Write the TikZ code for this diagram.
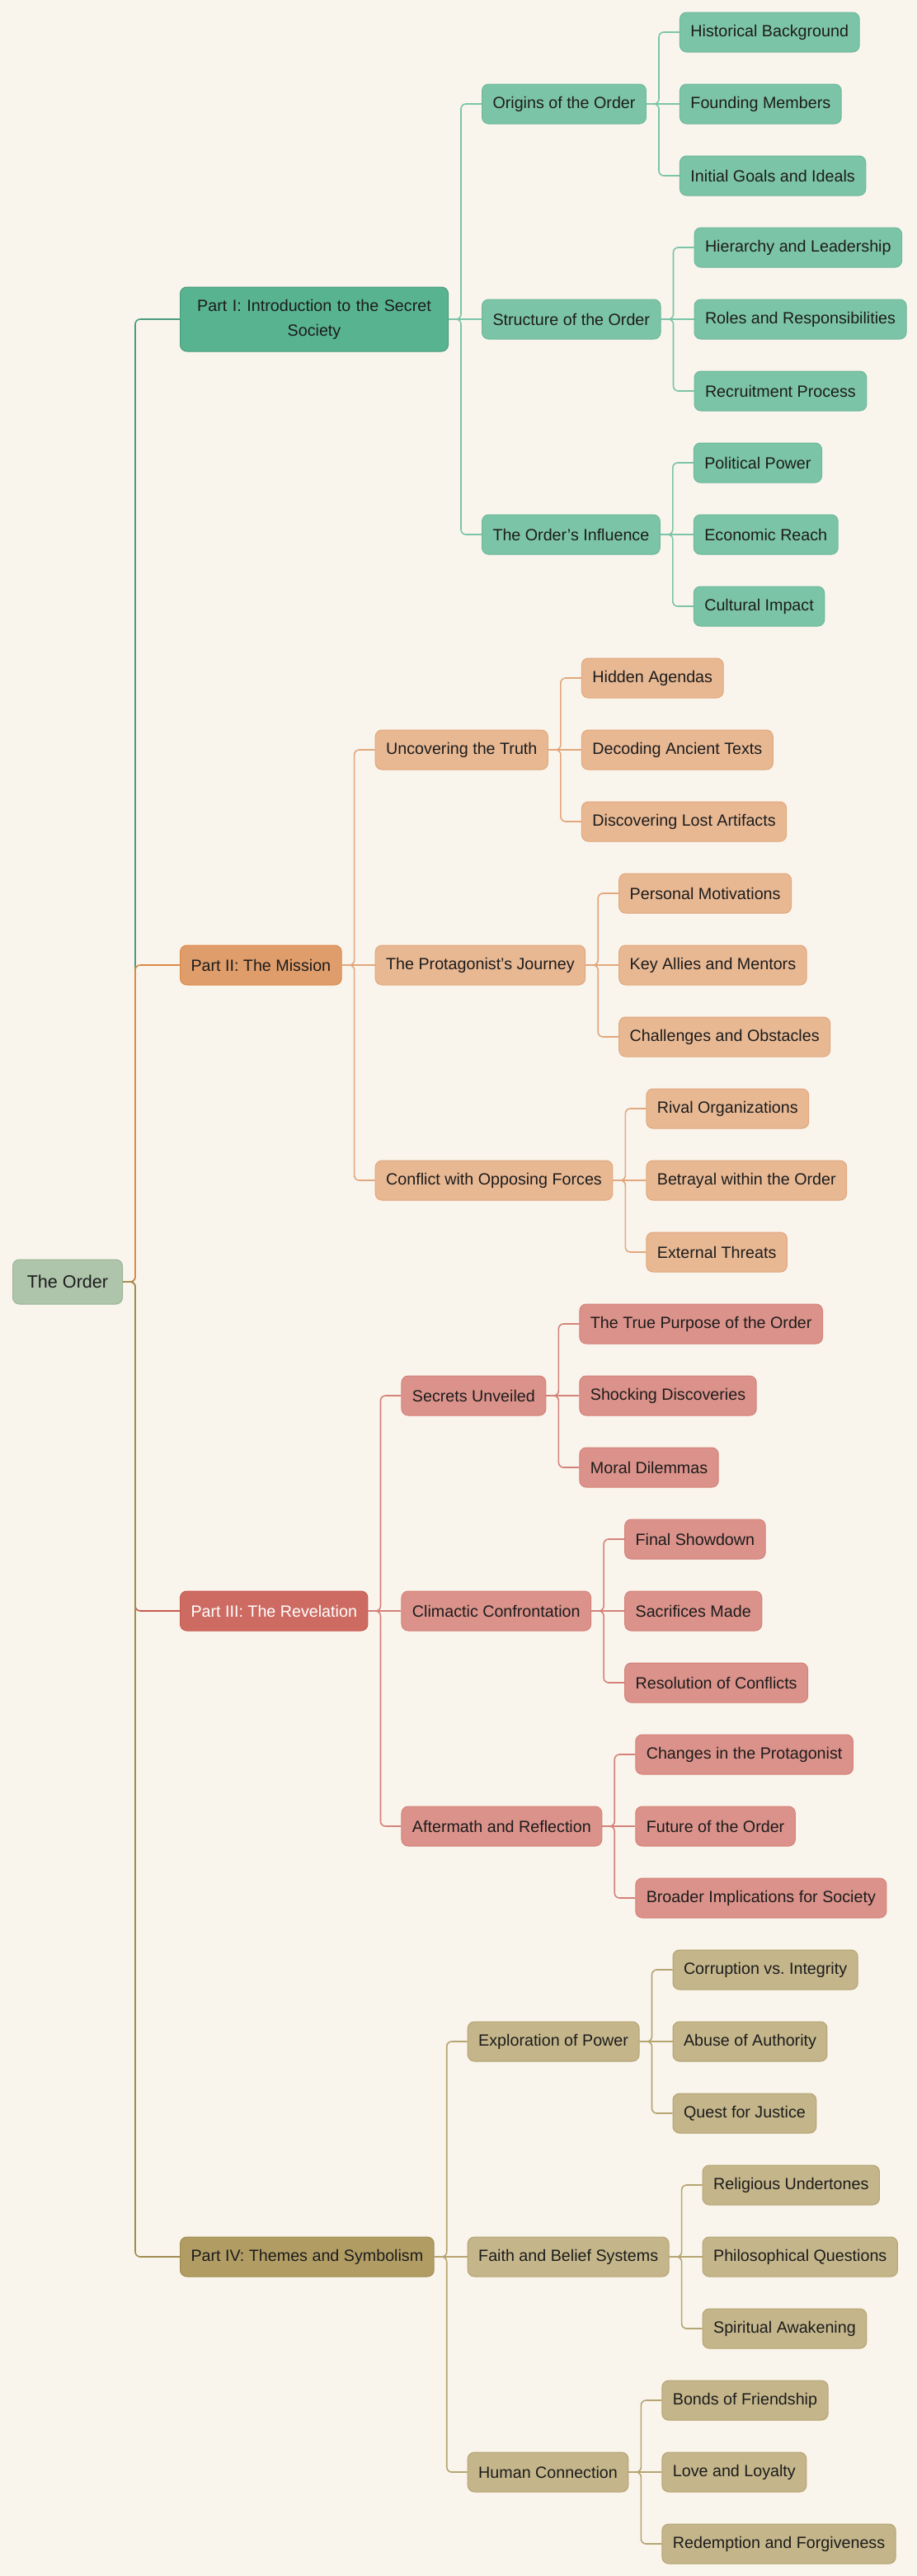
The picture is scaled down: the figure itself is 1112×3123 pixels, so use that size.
\documentclass[tikz,border=0pt]{standalone}
\usepackage{fontspec}
\setmainfont{Liberation Sans}
\usetikzlibrary{positioning}
\frenchspacing

\definecolor{paper}{RGB}{249,245,237}
\definecolor{ink}{RGB}{28,28,28}
\definecolor{rootfill}{RGB}{174,196,171}
\definecolor{rootline}{RGB}{156,181,151}
\definecolor{greenA}{RGB}{88,179,145}
\definecolor{greenAline}{RGB}{74,156,124}
\definecolor{greenB}{RGB}{124,196,167}
\definecolor{greenBline}{RGB}{110,184,153}
\definecolor{orangeA}{RGB}{223,157,107}
\definecolor{orangeAline}{RGB}{221,137,70}
\definecolor{orangeB}{RGB}{232,184,147}
\definecolor{orangeBline}{RGB}{226,167,124}
\definecolor{redA}{RGB}{205,107,98}
\definecolor{redAline}{RGB}{200,90,80}
\definecolor{redB}{RGB}{219,146,138}
\definecolor{redBline}{RGB}{212,130,121}
\definecolor{oliveA}{RGB}{177,157,100}
\definecolor{oliveAline}{RGB}{160,141,80}
\definecolor{oliveB}{RGB}{196,181,138}
\definecolor{oliveBline}{RGB}{182,164,113}

\tikzset{
  box/.style={rectangle, rounded corners=4pt, inner xsep=6.5pt, inner ysep=2pt,
    minimum height=24pt, line width=0.5pt, text=ink,
    font=\fontsize{9.85pt}{15pt}\selectfont},
  rootbox/.style={box, fill=rootfill, draw=rootline, minimum height=27pt,
    minimum width=66.5pt, font=\fontsize{10.8pt}{15pt}\selectfont},
  partI/.style={box, fill=greenA, draw=greenAline},
  subI/.style={box, fill=greenB, draw=greenBline},
  partII/.style={box, fill=orangeA, draw=orangeAline},
  subII/.style={box, fill=orangeB, draw=orangeBline},
  partIII/.style={box, fill=redA, draw=redAline, text=white},
  subIII/.style={box, fill=redB, draw=redBline},
  partIV/.style={box, fill=oliveA, draw=oliveAline},
  subIV/.style={box, fill=oliveB, draw=oliveBline},
  link/.style={line width=0.8pt, rounded corners=3pt},
}

\begin{document}
\begin{tikzpicture}[x=0.5pt,y=-0.5pt]
  \fill[paper] (0,0) rectangle (1112,3123);
  \useasboundingbox (0,0) rectangle (1112,3123);
  \def\gap{20pt}
  \def\up{130.5pt}
  \def\lf{43.5pt}
  % racine et parties
  \node[rootbox, anchor=west] (O) at (15,1554) {The Order};
  \node[partI, anchor=west, text width=149.5pt, align=center, minimum height=39pt] (P1)
    at (218,387) {Part I: Introduction to the Secret\\Society};
  \node[partII, anchor=west] (P2) at (218,1170) {Part II: The Mission};
  \node[partIII, anchor=west] (P3) at (218,1953) {Part III: The Revelation};
  \node[partIV, anchor=west] (P4) at (218,2736) {Part IV: Themes and Symbolism};
  % Part I
  \node[subI, right=\gap of P1, yshift=\up] (P1a) {Origins of the Order};
  \node[subI, right=\gap of P1] (P1b) {Structure of the Order};
  \node[subI, right=\gap of P1, yshift=-\up] (P1c) {The Order's Influence};
  \node[subI, right=\gap of P1a, yshift=\lf] (P1a1) {Historical Background};
  \node[subI, right=\gap of P1a] (P1a2) {Founding Members};
  \node[subI, right=\gap of P1a, yshift=-\lf] (P1a3) {Initial Goals and Ideals};
  \node[subI, right=\gap of P1b, yshift=\lf] (P1b1) {Hierarchy and Leadership};
  \node[subI, right=\gap of P1b] (P1b2) {Roles and Responsibilities};
  \node[subI, right=\gap of P1b, yshift=-\lf] (P1b3) {Recruitment Process};
  \node[subI, right=\gap of P1c, yshift=\lf] (P1c1) {Political Power};
  \node[subI, right=\gap of P1c] (P1c2) {Economic Reach};
  \node[subI, right=\gap of P1c, yshift=-\lf] (P1c3) {Cultural Impact};
  % Part II
  \node[subII, right=\gap of P2, yshift=\up] (P2a) {Uncovering the Truth};
  \node[subII, right=\gap of P2] (P2b) {The Protagonist's Journey};
  \node[subII, right=\gap of P2, yshift=-\up] (P2c) {Conflict with Opposing Forces};
  \node[subII, right=\gap of P2a, yshift=\lf] (P2a1) {Hidden Agendas};
  \node[subII, right=\gap of P2a] (P2a2) {Decoding Ancient Texts};
  \node[subII, right=\gap of P2a, yshift=-\lf] (P2a3) {Discovering Lost Artifacts};
  \node[subII, right=\gap of P2b, yshift=\lf] (P2b1) {Personal Motivations};
  \node[subII, right=\gap of P2b] (P2b2) {Key Allies and Mentors};
  \node[subII, right=\gap of P2b, yshift=-\lf] (P2b3) {Challenges and Obstacles};
  \node[subII, right=\gap of P2c, yshift=\lf] (P2c1) {Rival Organizations};
  \node[subII, right=\gap of P2c] (P2c2) {Betrayal within the Order};
  \node[subII, right=\gap of P2c, yshift=-\lf] (P2c3) {External Threats};
  % Part III
  \node[subIII, right=\gap of P3, yshift=\up] (P3a) {Secrets Unveiled};
  \node[subIII, right=\gap of P3] (P3b) {Climactic Confrontation};
  \node[subIII, right=\gap of P3, yshift=-\up] (P3c) {Aftermath and Reflection};
  \node[subIII, right=\gap of P3a, yshift=\lf] (P3a1) {The True Purpose of the Order};
  \node[subIII, right=\gap of P3a] (P3a2) {Shocking Discoveries};
  \node[subIII, right=\gap of P3a, yshift=-\lf] (P3a3) {Moral Dilemmas};
  \node[subIII, right=\gap of P3b, yshift=\lf] (P3b1) {Final Showdown};
  \node[subIII, right=\gap of P3b] (P3b2) {Sacrifices Made};
  \node[subIII, right=\gap of P3b, yshift=-\lf] (P3b3) {Resolution of Conflicts};
  \node[subIII, right=\gap of P3c, yshift=\lf] (P3c1) {Changes in the Protagonist};
  \node[subIII, right=\gap of P3c] (P3c2) {Future of the Order};
  \node[subIII, right=\gap of P3c, yshift=-\lf] (P3c3) {Broader Implications for Society};
  % Part IV
  \node[subIV, right=\gap of P4, yshift=\up] (P4a) {Exploration of Power};
  \node[subIV, right=\gap of P4] (P4b) {Faith and Belief Systems};
  \node[subIV, right=\gap of P4, yshift=-\up] (P4c) {Human Connection};
  \node[subIV, right=\gap of P4a, yshift=\lf] (P4a1) {Corruption vs. Integrity};
  \node[subIV, right=\gap of P4a] (P4a2) {Abuse of Authority};
  \node[subIV, right=\gap of P4a, yshift=-\lf] (P4a3) {Quest for Justice};
  \node[subIV, right=\gap of P4b, yshift=\lf] (P4b1) {Religious Undertones};
  \node[subIV, right=\gap of P4b] (P4b2) {Philosophical Questions};
  \node[subIV, right=\gap of P4b, yshift=-\lf] (P4b3) {Spiritual Awakening};
  \node[subIV, right=\gap of P4c, yshift=\lf] (P4c1) {Bonds of Friendship};
  \node[subIV, right=\gap of P4c] (P4c2) {Love and Loyalty};
  \node[subIV, right=\gap of P4c, yshift=-\lf] (P4c3) {Redemption and Forgiveness};
  % liens racine -> parties (ordre : IV recouvre III, II recouvre I)
  \draw[link, greenAline] (O.east) -- ++(15,0) |- (P1.west);
  \draw[link, orangeAline] (O.east) -- ++(15,0) |- (P2.west);
  \draw[link, redAline] (O.east) -- ++(15,0) |- (P3.west);
  \draw[link, oliveAline] (O.east) -- ++(15,0) |- (P4.west);
  % Part I
  \draw[link, greenB] (P1.east) -- ++(15,0) |- (P1a.west);
  \draw[link, greenB] (P1.east) -- (P1b.west);
  \draw[link, greenB] (P1.east) -- ++(15,0) |- (P1c.west);
  \draw[link, greenB] (P1a.east) -- ++(15,0) |- (P1a1.west);
  \draw[link, greenB] (P1a.east) -- (P1a2.west);
  \draw[link, greenB] (P1a.east) -- ++(15,0) |- (P1a3.west);
  \draw[link, greenB] (P1b.east) -- ++(15,0) |- (P1b1.west);
  \draw[link, greenB] (P1b.east) -- (P1b2.west);
  \draw[link, greenB] (P1b.east) -- ++(15,0) |- (P1b3.west);
  \draw[link, greenB] (P1c.east) -- ++(15,0) |- (P1c1.west);
  \draw[link, greenB] (P1c.east) -- (P1c2.west);
  \draw[link, greenB] (P1c.east) -- ++(15,0) |- (P1c3.west);
  % Part II
  \draw[link, orangeBline] (P2.east) -- ++(15,0) |- (P2a.west);
  \draw[link, orangeBline] (P2.east) -- (P2b.west);
  \draw[link, orangeBline] (P2.east) -- ++(15,0) |- (P2c.west);
  \draw[link, orangeBline] (P2a.east) -- ++(15,0) |- (P2a1.west);
  \draw[link, orangeBline] (P2a.east) -- (P2a2.west);
  \draw[link, orangeBline] (P2a.east) -- ++(15,0) |- (P2a3.west);
  \draw[link, orangeBline] (P2b.east) -- ++(15,0) |- (P2b1.west);
  \draw[link, orangeBline] (P2b.east) -- (P2b2.west);
  \draw[link, orangeBline] (P2b.east) -- ++(15,0) |- (P2b3.west);
  \draw[link, orangeBline] (P2c.east) -- ++(15,0) |- (P2c1.west);
  \draw[link, orangeBline] (P2c.east) -- (P2c2.west);
  \draw[link, orangeBline] (P2c.east) -- ++(15,0) |- (P2c3.west);
  % Part III
  \draw[link, redBline] (P3.east) -- ++(15,0) |- (P3a.west);
  \draw[link, redBline] (P3.east) -- (P3b.west);
  \draw[link, redBline] (P3.east) -- ++(15,0) |- (P3c.west);
  \draw[link, redBline] (P3a.east) -- ++(15,0) |- (P3a1.west);
  \draw[link, redBline] (P3a.east) -- (P3a2.west);
  \draw[link, redBline] (P3a.east) -- ++(15,0) |- (P3a3.west);
  \draw[link, redBline] (P3b.east) -- ++(15,0) |- (P3b1.west);
  \draw[link, redBline] (P3b.east) -- (P3b2.west);
  \draw[link, redBline] (P3b.east) -- ++(15,0) |- (P3b3.west);
  \draw[link, redBline] (P3c.east) -- ++(15,0) |- (P3c1.west);
  \draw[link, redBline] (P3c.east) -- (P3c2.west);
  \draw[link, redBline] (P3c.east) -- ++(15,0) |- (P3c3.west);
  % Part IV
  \draw[link, oliveBline] (P4.east) -- ++(15,0) |- (P4a.west);
  \draw[link, oliveBline] (P4.east) -- (P4b.west);
  \draw[link, oliveBline] (P4.east) -- ++(15,0) |- (P4c.west);
  \draw[link, oliveBline] (P4a.east) -- ++(15,0) |- (P4a1.west);
  \draw[link, oliveBline] (P4a.east) -- (P4a2.west);
  \draw[link, oliveBline] (P4a.east) -- ++(15,0) |- (P4a3.west);
  \draw[link, oliveBline] (P4b.east) -- ++(15,0) |- (P4b1.west);
  \draw[link, oliveBline] (P4b.east) -- (P4b2.west);
  \draw[link, oliveBline] (P4b.east) -- ++(15,0) |- (P4b3.west);
  \draw[link, oliveBline] (P4c.east) -- ++(15,0) |- (P4c1.west);
  \draw[link, oliveBline] (P4c.east) -- (P4c2.west);
  \draw[link, oliveBline] (P4c.east) -- ++(15,0) |- (P4c3.west);
\end{tikzpicture}
\end{document}
